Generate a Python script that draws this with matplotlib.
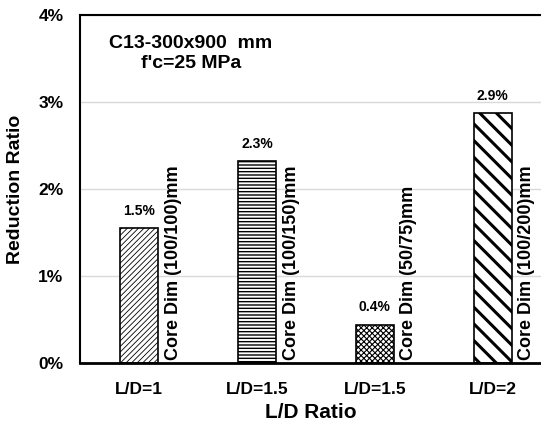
import matplotlib
matplotlib.use("Agg")
import matplotlib.pyplot as plt
from matplotlib.ticker import FuncFormatter

plt.rcParams['font.family'] = ['Liberation Sans', 'DejaVu Sans']
plt.rcParams['font.weight'] = 'bold'

# data
categories = ['L/D=1', 'L/D=1.5', 'L/D=1.5', 'L/D=2']
reduction = [1.55, 2.32, 0.44, 2.87]
value_labels = ['1.5%', '2.3%', '0.4%', '2.9%']
core_dims = ['Core Dim (100/100)mm', 'Core Dim (100/150)mm',
             'Core Dim (50/75)mm', 'Core Dim (100/200)mm']
hatches = ['//////', '-----', 'xxxxxx', '\\\\']
hatch_lw = [0.6, 1.0, 0.8, 2.2]

fig = plt.figure(figsize=(5.41, 4.21), dpi=100)
ax = fig.add_axes([0.148, 0.138, 0.852, 0.826])

x = list(range(len(categories)))
bars = ax.bar(x, reduction, width=0.32, color='white', edgecolor='black', linewidth=1.2)
for b, h, lw in zip(bars, hatches, hatch_lw):
    b.set_hatch(h)
    try:
        b.set_hatch_linewidth(lw)
    except AttributeError:
        pass

for i, (v, lab, cd) in enumerate(zip(reduction, value_labels, core_dims)):
    ax.text(i, v + 0.12, lab, ha='center', va='bottom', fontsize=10, fontweight='bold')
    ax.text(i + 0.29, 0.03, cd, rotation=90, ha='center', va='bottom', fontsize=13, fontweight='bold')

ax.text(0.44, 3.56, "C13-300x900  mm\nf'c=25 MPa", ha='center', va='center',
        fontsize=14, fontweight='bold', linespacing=1.25)

ax.set_ylim(0, 4)
ax.set_xlim(-0.5, 3.41)
ax.set_yticks([0, 1, 2, 3, 4])
ax.yaxis.set_major_formatter(FuncFormatter(lambda v, p: f'{v:.0f}%'))
ax.set_xticks(x)
ax.set_xticklabels(categories)
ax.tick_params(axis='both', length=0, labelsize=12.5)
ax.tick_params(axis='x', pad=14)
ax.tick_params(axis='y', pad=12)
for t in ax.get_xticklabels() + ax.get_yticklabels():
    t.set_fontweight('bold')

ax.grid(axis='y', color='#d9d9d9', linewidth=1)
ax.set_axisbelow(True)
ax.spines['right'].set_visible(False)
ax.spines['left'].set_linewidth(1.5)
ax.spines['top'].set_linewidth(1.5)
ax.spines['bottom'].set_linewidth(2)

ax.set_ylabel('Reduction Ratio', fontsize=14, fontweight='bold', labelpad=10)
ax.set_xlabel('L/D Ratio', fontsize=15, fontweight='bold', labelpad=4)

fig.savefig('out.png', dpi=100)
